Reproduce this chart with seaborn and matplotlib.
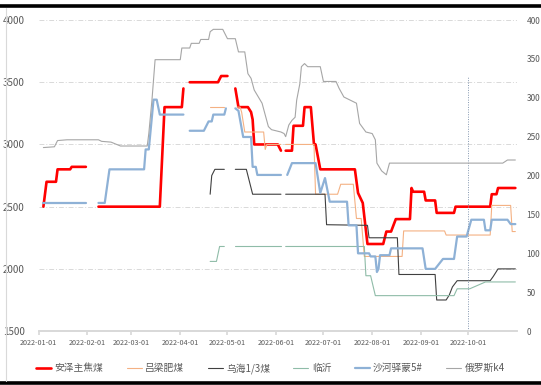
import pandas as pd
import matplotlib
matplotlib.use("Agg")
import matplotlib.pyplot as plt
import matplotlib.dates as mdates
from matplotlib.lines import Line2D
import seaborn as sns

# breakpoints; None marks a break in the line
anze = [("2022-01-04", 2500), ("2022-01-06", 2700), ("2022-01-12", 2700), ("2022-01-13", 2800),
        ("2022-01-21", 2800), ("2022-01-22", 2820), ("2022-01-31", 2820), None,
        ("2022-02-08", 2500), ("2022-03-19", 2500), ("2022-03-22", 3300), ("2022-04-02", 3300),
        ("2022-04-03", 3450), None,
        ("2022-04-07", 3500), ("2022-04-25", 3500), ("2022-04-27", 3550), ("2022-05-01", 3550), None,
        ("2022-05-06", 3450), ("2022-05-08", 3300), ("2022-05-14", 3300), ("2022-05-16", 3260),
        ("2022-05-17", 3200), ("2022-05-18", 3000), ("2022-06-02", 3000), ("2022-06-04", 2950), None,
        ("2022-06-07", 2950), ("2022-06-11", 2950), ("2022-06-12", 3150), ("2022-06-18", 3150),
        ("2022-06-19", 3300), ("2022-06-23", 3300), ("2022-06-25", 3000), ("2022-06-26", 3000),
        ("2022-06-29", 2800), ("2022-07-21", 2800), ("2022-07-23", 2610), ("2022-07-26", 2530),
        ("2022-07-28", 2310), ("2022-07-29", 2200), ("2022-08-08", 2200), ("2022-08-10", 2300),
        ("2022-08-13", 2300), ("2022-08-16", 2400), ("2022-08-25", 2400), ("2022-08-26", 2650),
        ("2022-08-27", 2620), ("2022-09-03", 2620), ("2022-09-04", 2550), ("2022-09-10", 2550),
        ("2022-09-11", 2450), ("2022-09-22", 2450), ("2022-09-23", 2500), ("2022-10-15", 2500),
        ("2022-10-16", 2600), ("2022-10-19", 2600), ("2022-10-20", 2650), ("2022-10-31", 2650)]

lvliang = [("2022-04-20", 3300), ("2022-04-29", 3300), None,
           ("2022-05-07", 3300), ("2022-05-09", 3300), ("2022-05-10", 3260), ("2022-05-12", 3100),
           ("2022-05-24", 3100), ("2022-05-25", 2960), ("2022-05-26", 3000), ("2022-06-04", 3000), None,
           ("2022-06-07", 3000), ("2022-06-25", 3000), ("2022-06-26", 2600), ("2022-07-10", 2600),
           ("2022-07-12", 2680), ("2022-07-20", 2680), ("2022-07-22", 2405), ("2022-07-25", 2405),
           ("2022-07-27", 2100), ("2022-08-20", 2100), ("2022-08-21", 2305), ("2022-09-16", 2305),
           ("2022-09-17", 2272), ("2022-10-15", 2272), ("2022-10-16", 2510), ("2022-10-28", 2510),
           ("2022-10-29", 2300), ("2022-10-31", 2300)]

wuhai = [("2022-04-20", 2600), ("2022-04-21", 2750), ("2022-04-23", 2800), ("2022-04-29", 2800), None,
         ("2022-05-06", 2800), ("2022-05-13", 2800), ("2022-05-17", 2600), ("2022-06-04", 2600), None,
         ("2022-06-07", 2600), ("2022-07-02", 2600), ("2022-07-03", 2355), ("2022-07-29", 2350),
         ("2022-07-30", 2250), ("2022-08-17", 2250), ("2022-08-18", 1955), ("2022-09-10", 1955),
         ("2022-09-11", 1750), ("2022-09-17", 1750), ("2022-09-19", 1790), ("2022-09-21", 1855),
         ("2022-09-24", 1905), ("2022-10-15", 1905), ("2022-10-17", 1940), ("2022-10-20", 2000),
         ("2022-10-31", 2000)]

linyi = [("2022-04-20", 2060), ("2022-04-24", 2060), ("2022-04-26", 2180), ("2022-04-29", 2180), None,
         ("2022-05-06", 2180), ("2022-06-04", 2180), None,
         ("2022-06-07", 2180), ("2022-07-27", 2180), ("2022-07-28", 1945), ("2022-07-31", 1945),
         ("2022-08-03", 1785), ("2022-09-22", 1785), ("2022-09-24", 1840), ("2022-10-02", 1840),
         ("2022-10-12", 1895), ("2022-10-31", 1895)]

shahe = [("2022-01-04", 2530), ("2022-01-31", 2530), None,
         ("2022-02-08", 2530), ("2022-02-12", 2530), ("2022-02-15", 2800), ("2022-03-09", 2800),
         ("2022-03-10", 2960), ("2022-03-12", 2960), ("2022-03-15", 3360), ("2022-03-17", 3360),
         ("2022-03-19", 3240), ("2022-04-03", 3240), None,
         ("2022-04-07", 3110), ("2022-04-16", 3110), ("2022-04-19", 3185), ("2022-04-21", 3185),
         ("2022-04-22", 3240), ("2022-04-29", 3240), ("2022-04-30", 3290), None,
         ("2022-05-06", 3290), ("2022-05-08", 3270), ("2022-05-11", 3060), ("2022-05-16", 3060),
         ("2022-05-17", 2820), ("2022-05-19", 2820), ("2022-05-20", 2755), ("2022-06-04", 2755), None,
         ("2022-06-08", 2755), ("2022-06-11", 2850), ("2022-06-26", 2850), ("2022-06-29", 2610),
         ("2022-07-02", 2730), ("2022-07-05", 2540), ("2022-07-16", 2540), ("2022-07-17", 2350),
         ("2022-07-22", 2350), ("2022-07-23", 2125), ("2022-07-30", 2125), ("2022-07-31", 2100),
         ("2022-08-03", 2100), ("2022-08-04", 1975), ("2022-08-05", 2000), ("2022-08-06", 2110),
         ("2022-08-12", 2110), ("2022-08-13", 2165), ("2022-09-02", 2165), ("2022-09-04", 2000),
         ("2022-09-10", 2000), ("2022-09-15", 2080), ("2022-09-22", 2080), ("2022-09-24", 2260),
         ("2022-09-30", 2260), ("2022-10-03", 2395), ("2022-10-11", 2395), ("2022-10-12", 2310),
         ("2022-10-15", 2310), ("2022-10-16", 2395), ("2022-10-26", 2395), ("2022-10-28", 2360),
         ("2022-10-31", 2360)]

# right axis
russia_k4 = [("2022-01-04", 236), ("2022-01-11", 237), ("2022-01-13", 245), ("2022-01-19", 246),
             ("2022-02-08", 246), ("2022-02-10", 244), ("2022-02-16", 243), ("2022-02-22", 238),
             ("2022-03-11", 238), ("2022-03-12", 254), ("2022-03-14", 297), ("2022-03-16", 349),
             ("2022-04-01", 349), ("2022-04-02", 364), ("2022-04-07", 364), ("2022-04-08", 370),
             ("2022-04-13", 370), ("2022-04-14", 375), ("2022-04-19", 375), ("2022-04-20", 385),
             ("2022-04-22", 388), ("2022-04-28", 388), ("2022-05-01", 376), ("2022-05-06", 376),
             ("2022-05-08", 359), ("2022-05-12", 359), ("2022-05-14", 331), ("2022-05-16", 325),
             ("2022-05-18", 310), ("2022-05-23", 293), ("2022-05-25", 278), ("2022-05-27", 263),
             ("2022-05-29", 259), ("2022-06-04", 256), ("2022-06-06", 254), ("2022-06-07", 250),
             ("2022-06-09", 265), ("2022-06-11", 271), ("2022-06-13", 275), ("2022-06-14", 297),
             ("2022-06-16", 318), ("2022-06-17", 340), ("2022-06-19", 344), ("2022-06-21", 340),
             ("2022-06-29", 340), ("2022-07-01", 321), ("2022-07-09", 321), ("2022-07-11", 312),
             ("2022-07-14", 301), ("2022-07-18", 297), ("2022-07-22", 293), ("2022-07-24", 267),
             ("2022-07-28", 256), ("2022-08-01", 254), ("2022-08-03", 246), ("2022-08-04", 216),
             ("2022-08-07", 206), ("2022-08-10", 201), ("2022-08-12", 216), ("2022-10-23", 216),
             ("2022-10-26", 220), ("2022-10-31", 220)]

names = ["安泽主焦煤", "吕梁肥煤", "乌海1/3煤", "临沂", "沙河驿蒙5#", "俄罗斯k4"]
colors = ["#FF0000", "#F4B183", "#404040", "#8FBCA8", "#8EB1D6", "#A6A6A6"]
widths = [1.9, 0.8, 0.8, 0.8, 1.6, 0.8]


def to_frame(points):
    rows = []
    seg = 0
    for p in points:
        if p is None:
            seg += 1
            continue
        rows.append((pd.Timestamp(p[0]), p[1], seg))
    return pd.DataFrame(rows, columns=["date", "price", "seg"])


sns.set_theme(style="white")
plt.rcParams['font.family'] = ['Noto Sans CJK SC', 'DejaVu Sans']

fig = plt.figure(figsize=(5.41, 3.85), dpi=100)
ax = fig.add_axes([0.0715, 0.140, 0.884, 0.808])
ax2 = ax.twinx()

left_series = [anze, lvliang, wuhai, linyi, shahe]
for pts, c, lw in zip(left_series, colors[:5], widths[:5]):
    sns.lineplot(data=to_frame(pts), x="date", y="price", units="seg", estimator=None,
                 color=c, linewidth=lw, ax=ax, legend=False)
sns.lineplot(data=to_frame(russia_k4), x="date", y="price", units="seg", estimator=None,
             color=colors[5], linewidth=widths[5], ax=ax2, legend=False)

ax.set_xlim(pd.Timestamp("2022-01-01"), pd.Timestamp("2022-11-01"))
ax.set_ylim(1500, 4000)
ax2.set_ylim(0, 400)
ax.set_yticks(range(1500, 4001, 500))
ax2.set_yticks(range(0, 401, 50))
ax.set_xticks(pd.date_range("2022-01-01", "2022-10-01", freq="MS"))
ax.xaxis.set_major_formatter(mdates.DateFormatter("%Y-%m-%d"))
ax.set_xlabel("")
ax.set_ylabel("")
ax2.set_ylabel("")

ax.yaxis.grid(True, color="#D9D9D9", linestyle=(0, (5, 2, 1, 2)), linewidth=0.7)
ax.axvline(pd.Timestamp("2022-10-01"), ymax=0.82, color="#8497B0", linestyle=(0, (1, 1.5)), linewidth=0.7)

for a in (ax, ax2):
    for s in ("top", "left", "right"):
        a.spines[s].set_visible(False)
    a.spines["bottom"].set_color("#D9D9D9")
ax.tick_params(axis="x", bottom=True, length=3, color="#D9D9D9", labelsize=5.2,
               labelcolor="#595959", pad=3)
ax.tick_params(axis="y", left=False, labelsize=7, labelcolor="#595959", pad=4)
ax2.tick_params(axis="y", right=False, labelsize=6, labelcolor="#595959", pad=1)

handles = [Line2D([], [], color=c, linewidth=lw) for c, lw in zip(colors, widths)]
fig.legend(handles, names, loc="center", bbox_to_anchor=(0.5, 0.044), ncol=6, frameon=False,
           fontsize=7, handlelength=1.55, handletextpad=0.35, columnspacing=2.4,
           labelcolor="#595959")

# chart frame
fig.add_artist(Line2D([0, 1], [0.985, 0.985], color="black", linewidth=2.6, transform=fig.transFigure))
fig.add_artist(Line2D([0, 1], [0.006, 0.006], color="black", linewidth=2.6, transform=fig.transFigure))
fig.add_artist(Line2D([0.012, 0.012], [0.01, 0.98], color="#D9D9D9", linewidth=0.8, transform=fig.transFigure))

fig.savefig("out.png", dpi=100)
